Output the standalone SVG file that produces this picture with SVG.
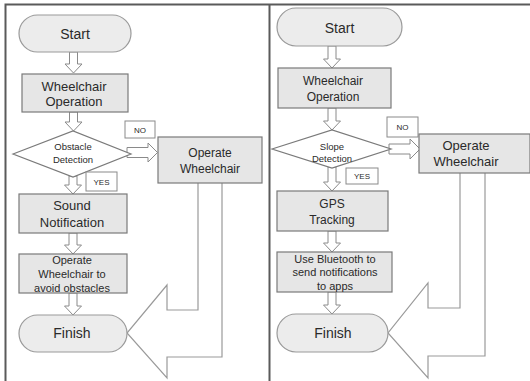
<svg xmlns="http://www.w3.org/2000/svg" width="530" height="381" viewBox="0 0 530 381">
<style>
text{font-family:"Liberation Sans",Arial,sans-serif;fill:#2a2a2a;text-anchor:middle}
.term{fill:#ececec;stroke:#9a9a9a;stroke-width:1.2}
.box{fill:#e6e6e6;stroke:#7a7a7a;stroke-width:1.2}
.dia{fill:#fff;stroke:#7a7a7a;stroke-width:1.2}
.lbl{fill:#fff;stroke:#8a8a8a;stroke-width:1}
.arr{fill:#fff;stroke:#8a8a8a;stroke-width:1}
.big{fill:#fff;stroke:#9a9a9a;stroke-width:1.2}
.frame{fill:none;stroke:#5a5a5a;stroke-width:2}
.t14{font-size:14px}.t13{font-size:13px}.t12{font-size:12px}.t11{font-size:11px}.t9{font-size:9.5px}.t8{font-size:8px}
</style>
<g id="frame"><path class="frame" d="M5.5,381 V4.5 H530 M269.5,4.5 V381"/></g>
<g id="connectors">
<path class="arr" d="M69.5,52 V64 H65 L73.5,73 L82,64 H77.5 V52 Z"/>
<path class="arr" d="M69.5,112 V122 H65 L73.5,131 L82,122 H77.5 V112 Z"/>
<path class="arr" d="M69,176 V185 H64.5 L73,194 L81.5,185 H77 V176 Z"/>
<path class="arr" d="M69,233 V245 H64.5 L73,254 L81.5,245 H77 V233 Z"/>
<path class="arr" d="M69,293 V306 H64.5 L73,315 L81.5,306 H77 V293 Z"/>
<path class="arr" d="M127,147.5 H148 V143 L157.5,152.5 L148,162 V157.5 H127 Z"/>
<path class="big" d="M198,183 V310 H167 V285 L127,333 L167,378 V357 H222 V183"/>
<path class="arr" d="M328,46 V59 H323.5 L332,68 L340.5,59 H336 V46 Z"/>
<path class="arr" d="M328,108 V121 H323.5 L332,130 L340.5,121 H336 V108 Z"/>
<path class="arr" d="M328,167 V182 H323.5 L332,191 L340.5,182 H336 V167 Z"/>
<path class="arr" d="M328,231 V243 H323.5 L332,252 L340.5,243 H336 V231 Z"/>
<path class="arr" d="M328,292 V305 H323.5 L332,314 L340.5,305 H336 V292 Z"/>
<path class="arr" d="M389,144 H410 V139 L420,149 L410,159 V154 H389 Z"/>
<path class="big" d="M460,173 V308 H428 V283 L388,333 L428,378 V356 H485 V173"/>
</g>
<g id="start-l"><rect class="term" x="19" y="15" width="112" height="37" rx="18.5"/><text class="t14" x="75" y="38.5">Start</text></g>
<g id="op-l"><rect class="box" x="22" y="74" width="106" height="38"/><text class="t13" x="74" y="90.5">Wheelchair</text><text class="t13" x="74" y="106">Operation</text></g>
<g id="obstacle"><polygon class="dia" points="13,154 73,131 131,154 73,177"/><text class="t9" x="73" y="150">Obstacle</text><text class="t9" x="73" y="163">Detection</text></g>
<g id="no-l"><rect class="lbl" x="125" y="121" width="30" height="17"/><text class="t8" x="140" y="132.5">NO</text></g>
<g id="yes-l"><rect class="lbl" x="86" y="172" width="31" height="19"/><text class="t8" x="101.5" y="185">YES</text></g>
<g id="ow-l"><rect class="box" x="158" y="137" width="104" height="46"/><text class="t12" x="210" y="157">Operate</text><text class="t12" x="210" y="173">Wheelchair</text></g>
<g id="sound"><rect class="box" x="19" y="194" width="108" height="39"/><text class="t13" x="72" y="210">Sound</text><text class="t13" x="72" y="226.5">Notification</text></g>
<g id="avoid"><rect class="box" x="19" y="254" width="108" height="39"/><text class="t11" x="72" y="264">Operate</text><text class="t11" x="72" y="278">Wheelchair to</text><text class="t11" x="72" y="292">avoid obstacles</text></g>
<g id="finish-l"><rect class="term" x="19" y="315" width="108" height="37" rx="18.5"/><text class="t14" x="72" y="338">Finish</text></g>
<g id="start-r"><rect class="term" x="277" y="8" width="125" height="38" rx="19"/><text class="t14" x="339.5" y="32.5">Start</text></g>
<g id="op-r"><rect class="box" x="278" y="68" width="113" height="40"/><text class="t12" x="333" y="85">Wheelchair</text><text class="t12" x="333" y="100.5">Operation</text></g>
<g id="slope"><polygon class="dia" points="272,149 332,130 391,149 332,168"/><text class="t9" x="332" y="149.5">Slope</text><text class="t9" x="332" y="161.5">Detection</text></g>
<g id="no-r"><rect class="lbl" x="387" y="117" width="31" height="20"/><text class="t8" x="402.5" y="130">NO</text></g>
<g id="yes-r"><rect class="lbl" x="346" y="168" width="32" height="16"/><text class="t8" x="362" y="179">YES</text></g>
<g id="ow-r"><rect class="box" x="419" y="134" width="111" height="39"/><text class="t13" x="466" y="150">Operate</text><text class="t13" x="466" y="166">Wheelchair</text></g>
<g id="gps"><rect class="box" x="277" y="191" width="111" height="40"/><text class="t12" x="332" y="208">GPS</text><text class="t12" x="332" y="223.5">Tracking</text></g>
<g id="bluetooth"><rect class="box" x="277" y="252" width="115" height="40"/><text class="t11" x="335" y="262.5">Use Bluetooth to</text><text class="t11" x="335" y="276">send notifications</text><text class="t11" x="335" y="289.5">to apps</text></g>
<g id="finish-r"><rect class="term" x="277" y="314" width="111" height="38" rx="19"/><text class="t14" x="333" y="338">Finish</text></g>
</svg>
